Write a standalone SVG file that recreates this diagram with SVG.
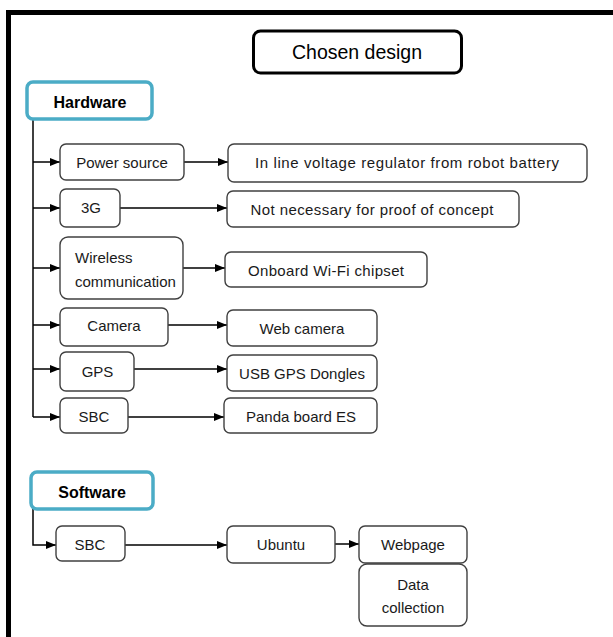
<svg xmlns="http://www.w3.org/2000/svg" width="613" height="637" viewBox="0 0 613 637">
<style>
  .box { fill: #ffffff; stroke: #404040; stroke-width: 1.4; }
  .cat { fill: #ffffff; stroke: #4BACC6; stroke-width: 3.5; }
  .title { fill: #ffffff; stroke: #000000; stroke-width: 3; }
  .t { font-family: "Liberation Sans", Arial, sans-serif; font-size: 15px; fill: #1a1a1a; text-anchor: middle; }
  .tl { font-family: "Liberation Sans", Arial, sans-serif; font-size: 15px; fill: #1a1a1a; }
  .tb { font-family: "Liberation Sans", Arial, sans-serif; font-size: 16px; font-weight: bold; fill: #000000; text-anchor: middle; }
  .tt { font-family: "Liberation Sans", Arial, sans-serif; font-size: 19.5px; fill: #000000; text-anchor: middle; }
  .c { fill: none; stroke: #000000; stroke-width: 1.5; }
</style>
<defs>
  <marker id="ah" markerWidth="10" markerHeight="8" refX="10" refY="4" orient="auto" markerUnits="userSpaceOnUse">
    <path d="M0,0 L10,4 L0,8 Z" fill="#000000"/>
  </marker>
</defs>
<rect width="613" height="637" fill="#ffffff"/>
<path d="M8.5,640 V12.5 H620" fill="none" stroke="#000000" stroke-width="5"/>

<g id="connectors">
  <path class="c" d="M33,119 V417"/>
  <path class="c" d="M33,162 H60" marker-end="url(#ah)"/>
  <path class="c" d="M184,162 H228" marker-end="url(#ah)"/>
  <path class="c" d="M33,208 H60" marker-end="url(#ah)"/>
  <path class="c" d="M120,208 H227" marker-end="url(#ah)"/>
  <path class="c" d="M33,268 H60" marker-end="url(#ah)"/>
  <path class="c" d="M183,268 H225" marker-end="url(#ah)"/>
  <path class="c" d="M33,325 H60" marker-end="url(#ah)"/>
  <path class="c" d="M168,325 H227" marker-end="url(#ah)"/>
  <path class="c" d="M33,369 H60" marker-end="url(#ah)"/>
  <path class="c" d="M134,369 H227" marker-end="url(#ah)"/>
  <path class="c" d="M33,417 H60" marker-end="url(#ah)"/>
  <path class="c" d="M128,417 H224" marker-end="url(#ah)"/>
  <path class="c" d="M33,509 V545 H56" marker-end="url(#ah)"/>
  <path class="c" d="M125,545 H227" marker-end="url(#ah)"/>
  <path class="c" d="M335,544 H359" marker-end="url(#ah)"/>
</g>

<g id="chosen-design">
  <rect class="title" x="253.5" y="31" width="208" height="42" rx="7"/>
  <text class="tt" x="357" y="58.5">Chosen design</text>
</g>

<g id="hardware">
  <rect class="cat" x="27" y="82" width="125" height="37" rx="6"/>
  <text class="tb" x="90" y="108">Hardware</text>
</g>

<g id="power-source">
  <rect class="box" x="60" y="144" width="124" height="36" rx="6"/>
  <text class="t" x="122" y="167.5">Power source</text>
</g>
<g id="voltage-regulator">
  <rect class="box" x="228" y="144" width="359" height="38" rx="6"/>
  <text class="t" x="407" y="168" textLength="304" lengthAdjust="spacing">In line voltage regulator from robot battery</text>
</g>

<g id="3g">
  <rect class="box" x="60" y="189" width="60" height="38" rx="6"/>
  <text class="t" x="91" y="213">3G</text>
</g>
<g id="not-necessary">
  <rect class="box" x="227" y="191" width="292" height="36" rx="6"/>
  <text class="t" x="372" y="215" textLength="243" lengthAdjust="spacing">Not necessary for proof of concept</text>
</g>

<g id="wireless">
  <rect class="box" x="60" y="237" width="123" height="62" rx="8"/>
  <text class="tl" x="75" y="263">Wireless</text>
  <text class="tl" x="75" y="287">communication</text>
</g>
<g id="wifi">
  <rect class="box" x="225" y="252" width="202" height="35" rx="6"/>
  <text class="t" x="326" y="276" textLength="156" lengthAdjust="spacing">Onboard Wi-Fi chipset</text>
</g>

<g id="camera">
  <rect class="box" x="60" y="308" width="108" height="38" rx="6"/>
  <text class="t" x="114" y="330.5">Camera</text>
</g>
<g id="web-camera">
  <rect class="box" x="227" y="310" width="150" height="36" rx="6"/>
  <text class="t" x="302" y="334">Web camera</text>
</g>

<g id="gps">
  <rect class="box" x="60" y="352" width="74" height="39" rx="6"/>
  <text class="t" x="97.5" y="377">GPS</text>
</g>
<g id="usb-gps">
  <rect class="box" x="227" y="355" width="150" height="36" rx="6"/>
  <text class="t" x="302" y="378.5">USB GPS Dongles</text>
</g>

<g id="sbc-hw">
  <rect class="box" x="60" y="398" width="68" height="35" rx="6"/>
  <text class="t" x="94" y="422">SBC</text>
</g>
<g id="panda-board">
  <rect class="box" x="224" y="398" width="153" height="35" rx="6"/>
  <text class="t" x="301" y="422">Panda board ES</text>
</g>

<g id="software">
  <rect class="cat" x="31" y="472" width="122" height="37" rx="6"/>
  <text class="tb" x="92" y="498">Software</text>
</g>

<g id="sbc-sw">
  <rect class="box" x="56" y="526" width="69" height="35" rx="6"/>
  <text class="t" x="90" y="550">SBC</text>
</g>
<g id="ubuntu">
  <rect class="box" x="227" y="526" width="108" height="37" rx="6"/>
  <text class="t" x="281" y="550">Ubuntu</text>
</g>
<g id="webpage">
  <rect class="box" x="359" y="526" width="108" height="37" rx="6"/>
  <text class="t" x="413" y="550">Webpage</text>
</g>
<g id="data-collection">
  <rect class="box" x="359" y="564" width="108" height="62" rx="8"/>
  <text class="t" x="413" y="590">Data</text>
  <text class="t" x="413" y="613">collection</text>
</g>
</svg>
